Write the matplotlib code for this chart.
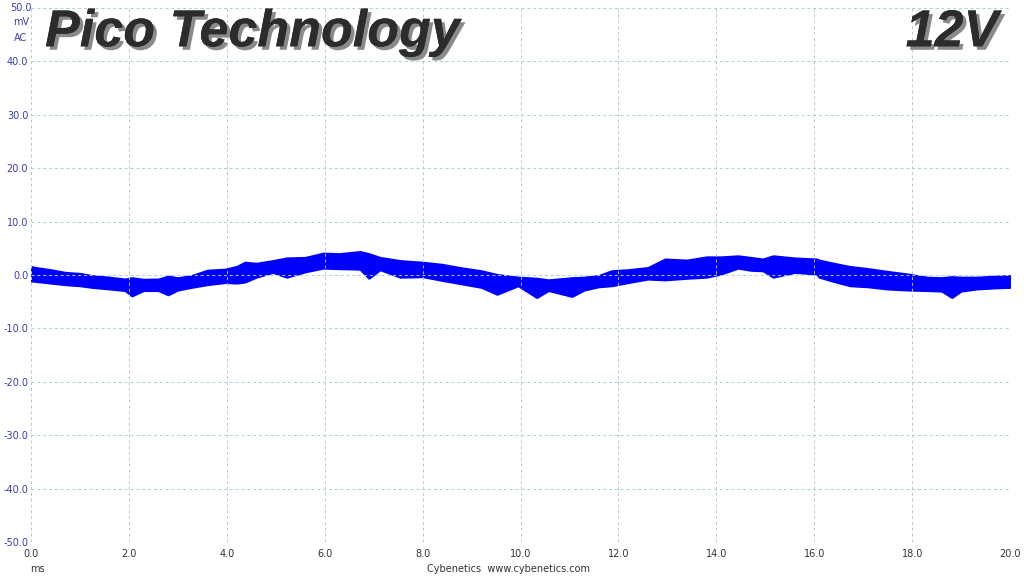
import matplotlib
matplotlib.use('Agg')
import matplotlib.pyplot as plt
import matplotlib.patheffects as pe
import numpy as np

# envelope of the ripple trace (ms, mV)
t_ms = [0.0, 0.1, 0.4, 0.7, 1.0, 1.24, 1.6, 1.92, 2.06, 2.3, 2.6, 2.8, 3.0,
        3.28, 3.6, 3.96, 4.2, 4.37, 4.6, 4.94, 5.22, 5.6, 5.97, 6.3, 6.72,
        6.9, 7.13, 7.54, 8.0, 8.4, 8.83, 9.2, 9.52, 9.95, 10.33, 10.57,
        11.05, 11.3, 11.59, 11.86, 12.2, 12.6, 12.95, 13.4, 13.8, 14.1,
        14.44, 14.7, 14.95, 15.16, 15.6, 16.05, 16.1, 16.4, 16.73, 17.1,
        17.48, 17.9, 18.3, 18.6, 18.81, 19.0, 19.32, 19.7, 20.0]
upper_mv = [1.6, 1.4, 1.0, 0.5, 0.3, -0.1, -0.4, -0.75, -0.5, -0.8, -0.75,
            -0.2, -0.5, -0.1, 0.9, 1.1, 1.6, 2.4, 2.2, 2.7, 3.2, 3.3, 4.1,
            4.0, 4.4, 4.0, 3.3, 2.7, 2.4, 2.0, 1.3, 0.8, 0.1, -0.4, -0.6,
            -0.9, -0.5, -0.4, -0.1, 0.8, 1.0, 1.4, 3.0, 2.8, 3.4, 3.4, 3.6,
            3.3, 3.0, 3.6, 3.2, 3.0, 2.8, 2.2, 1.6, 1.2, 0.7, 0.2, -0.4, -0.5,
            -0.3, -0.4, -0.4, -0.2, -0.1]
lower_mv = [-1.1, -1.2, -1.5, -1.8, -2.0, -2.3, -2.6, -2.9, -3.9, -2.9, -2.9,
            -3.7, -2.8, -2.3, -1.8, -1.4, -1.5, -1.3, -0.4, 0.5, -0.4, 0.6, 1.3,
            1.2, 1.1, -0.6, 1.0, -0.4, -0.3, -1.0, -1.7, -2.3, -3.6, -2.0, -4.2,
            -2.9, -4.0, -2.8, -2.2, -2.0, -1.4, -0.75, -0.9, -0.6, -0.4, 0.2,
            1.3, 0.9, 0.8, -0.4, 0.5, 0.2, -0.4, -1.2, -2.0, -2.2, -2.6, -2.8,
            -2.9, -3.0, -4.2, -3.0, -2.6, -2.4, -2.3]

x_ticks = np.arange(0, 20.1, 2)
y_ticks = np.arange(-50, 50.1, 10)

fig = plt.figure(figsize=(10.24, 5.76), dpi=100)
ax = fig.add_axes([0.0303, 0.059, 0.9561, 0.927])

ax.fill_between(t_ms, lower_mv, upper_mv, color='#0000ff', linewidth=1.5,
                edgecolor='#0000ff')

ax.set_xlim(0, 20)
ax.set_ylim(-50, 50)
ax.set_xticks(x_ticks)
ax.set_yticks(y_ticks)
ax.grid(True, color='#a9cfd6', linestyle=(0, (3, 3)), linewidth=0.7)
for s in ax.spines.values():
    s.set_visible(False)
ax.tick_params(length=0)
ax.set_xticklabels(['%.1f' % v for v in x_ticks], fontsize=7, color='#333333')
ax.set_yticklabels(['' if v == 50 else '%.1f' % v for v in y_ticks],
                   fontsize=7, color='#3b3bb0')
ax.tick_params(axis='y', pad=2)
ax.tick_params(axis='x', pad=5)

# top-left unit labels
fig.text(0.0205, 0.986, '50.0', fontsize=7, color='#3b3bb0', ha='center', va='center')
fig.text(0.0205, 0.961, 'mV', fontsize=7, color='#3b3bb0', ha='center', va='center')
fig.text(0.0205, 0.934, 'AC', fontsize=7, color='#3b3bb0', ha='center', va='center')
fig.text(0.037, 0.013, 'ms', fontsize=7, color='#333333', ha='center', va='center')
fig.text(0.497, 0.013, 'Cybenetics  www.cybenetics.com', fontsize=7,
         color='#333333', ha='center', va='center')

shadow = [pe.withSimplePatchShadow(offset=(2.5, -2.5), shadow_rgbFace='#8a8a8a', alpha=1.0),
          pe.Normal()]
fig.text(0.044, 0.943, 'Pico Technology', fontsize=37.5, fontstyle='italic',
         fontweight='bold', family='Liberation Sans', color='#2c2c2c',
         ha='left', va='center', path_effects=shadow)
fig.text(0.975, 0.943, '12V', fontsize=37.5, fontstyle='italic',
         fontweight='bold', family='Liberation Sans', color='#2c2c2c',
         ha='right', va='center', path_effects=shadow)

fig.savefig('out.png', dpi=100)
